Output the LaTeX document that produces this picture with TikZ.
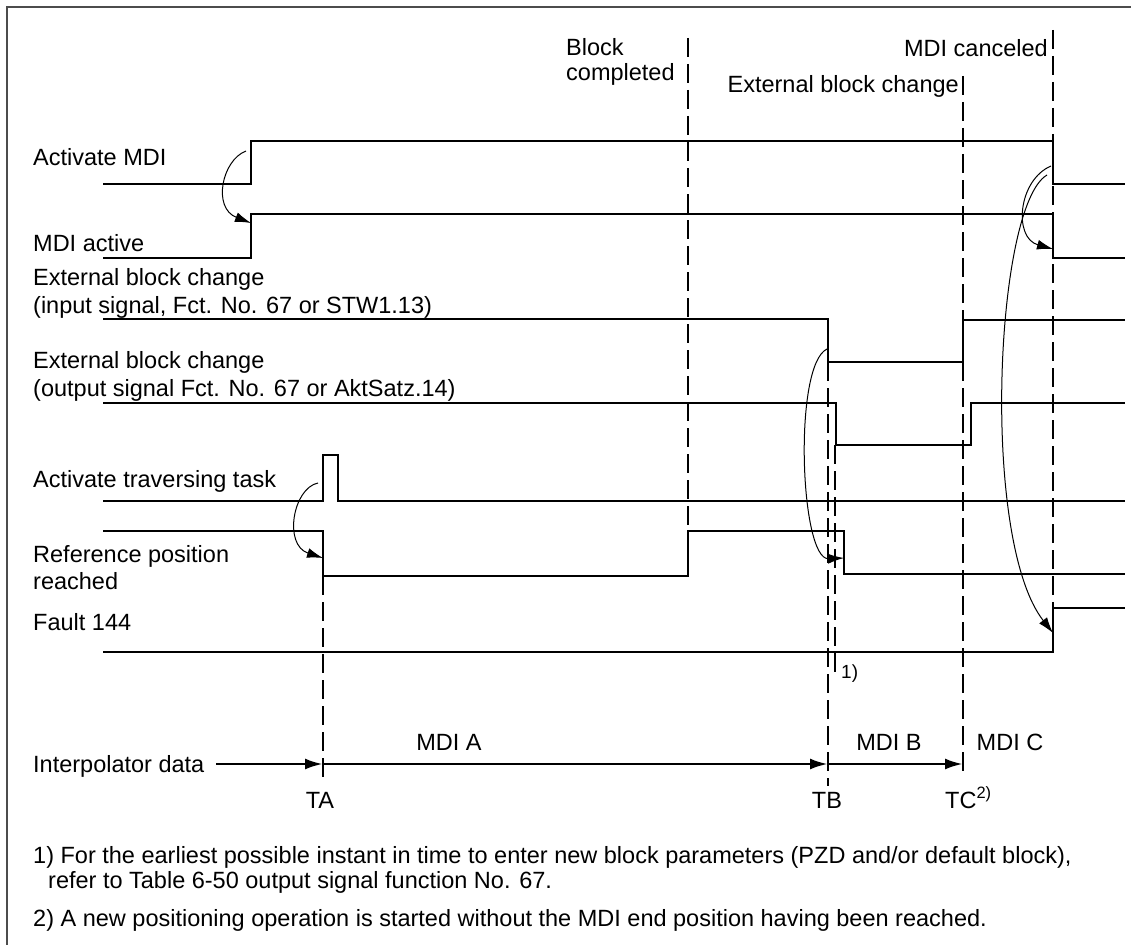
\documentclass[tikz,border=0pt]{standalone}
\usepackage{fontspec}
\setmainfont{Liberation Sans}
\usetikzlibrary{arrows.meta}
\begin{document}
\begin{tikzpicture}[x=1pt,y=-1pt,
  sig/.style={line width=2.7pt, line join=miter},
  guide/.style={line width=1.3pt, dash pattern=on 19pt off 7pt},
  cause/.style={line width=1pt, -{Latex[length=16pt,width=10pt]}},
  flow/.style={line width=2.8pt, -{Latex[length=18pt,width=11pt]}},
  lbl/.style={anchor=base west, inner sep=0pt, font=\fontsize{23.5}{28}\selectfont},
  clbl/.style={anchor=base, inner sep=0pt, font=\fontsize{23.5}{28}\selectfont},
  frame/.style={line width=1.5pt, draw=black!70},
]
\useasboundingbox (0,0) rectangle (1131,944);
% frame
\draw[frame] (7,950) -- (7,7) -- (1140,7);

% signals
\draw[sig] (103,184) -- (251,184) -- (251,141) -- (1053,141) -- (1053,184) -- (1125,184);
\draw[sig] (103,258) -- (251,258) -- (251,214) -- (1053,214) -- (1053,258) -- (1125,258);
\draw[sig] (103,319) -- (828,319) -- (828,362) -- (963,362) -- (963,320) -- (1125,320);
\draw[sig] (103,403) -- (836,403) -- (836,445) -- (971,445) -- (971,403) -- (1125,403);
\draw[sig] (103,501) -- (323,501) -- (323,455) -- (338,455) -- (338,501) -- (1125,501);
\draw[sig] (103,531) -- (323,531) -- (323,576) -- (688,576) -- (688,531) -- (844,531) -- (844,574) -- (1125,574);
\draw[sig] (103,652) -- (1053,652) -- (1053,608) -- (1125,608);

% guide lines
\draw[guide] (323,576) -- (323,778);
\draw[guide] (688,38) -- (688,531);
\draw[guide] (828,362) -- (828,786);
\draw[guide] (835,445) -- (835,678);
\draw[guide] (963,76) -- (963,778);
\draw[guide] (1053,30) -- (1053,608);

% labels left
\node[lbl] (l1) at (33,166) {Activate MDI};
\node[lbl] (l2) at (33,251) {MDI active};
\node[lbl] (l3) at (33,285) {External block change};
\node[lbl] (l3b) at (33,313) {(input signal, Fct. No. 67 or STW1.13)};
\node[lbl] (l4) at (33,368) {External block change};
\node[lbl] (l4b) at (33,396) {(output signal Fct. No. 67 or AktSatz.14)};
\node[lbl] (l5) at (33,487) {Activate traversing task};
\node[lbl] (l6) at (33,562) {Reference position};
\node[lbl] (l6b) at (33,589) {reached};
\node[lbl] (l7) at (33,630) {Fault 144};
\node[lbl] (l8) at (33,772) {Interpolator data};

% top labels
\node[lbl] (t1) at (566,56) {Block};
\node[lbl] (t1b) at (566,81) {completed};
\node[lbl, anchor=base east] (t2) at (1048,57) {MDI canceled};
\node[lbl, anchor=base east] (t3) at (959,93) {External block change};

% interpolator
\coordinate (i0) at (216,764);
\coordinate (iA) at (323,764);
\coordinate (iB) at (828,764);
\coordinate (iC) at (963,764);
\draw[flow] (i0) -- (iA);
\draw[flow] (iA) -- (iB);
\draw[flow] (iB) -- (iC);
\node[clbl] (mA) at (449,750) {MDI A};
\node[clbl] (mB) at (889,750) {MDI B};
\node[clbl] (mC) at (1010,750) {MDI C};
\node[clbl] (tA) at (320,808) {TA};
\node[clbl] (tB) at (827,808) {TB};
\node[lbl] (tC) at (945,808) {TC\textsuperscript{2)}};
\node[lbl, font=\fontsize{19}{22}\selectfont] (f1) at (841,678) {1)};

% cause arrows
\coordinate (a1s) at (246,151);
\coordinate (a1e) at (251,223);
\draw[cause] (a1s) .. controls (222,160) and (212,208) .. (a1e);
\coordinate (a2s) at (318,483);
\coordinate (a2e) at (323,558);
\draw[cause] (a2s) .. controls (293,488) and (283,545) .. (a2e);
\coordinate (a3s) at (827,349);
\coordinate (a3e) at (844,558);
\draw[cause] (a3s) .. controls (793,365) and (800,560) .. (a3e);
\coordinate (a4s) at (1051,166);
\coordinate (a4e) at (1053,249);
\draw[cause] (a4s) .. controls (1018,180) and (1013,238) .. (a4e);
\coordinate (a5s) at (1047,175);
\coordinate (a5e) at (1053,633);
\draw[cause] (a5s) .. controls (995,205) and (980,540) .. (a5e);

% footnotes
\node[lbl] (n1) at (33,863) {1) For the earliest possible instant in time to enter new block parameters (PZD and/or default block),};
\node[lbl] (n1b) at (48,888) {refer to Table 6-50 output signal function No. 67.};
\node[lbl] (n2) at (33,926) {2) A new positioning operation is started without the MDI end position having been reached.};
\end{tikzpicture}
\end{document}
